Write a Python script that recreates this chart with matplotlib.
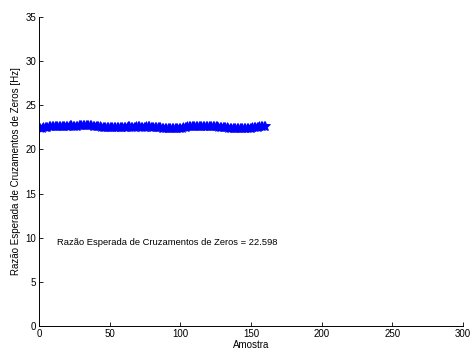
import matplotlib
matplotlib.use("Agg")
import matplotlib.pyplot as plt

plt.rcParams['font.family'] = ['Liberation Sans', 'DejaVu Sans']

zcr = [
 22.40, 22.45, 22.50, 22.52, 22.55, 22.58, 22.60, 22.62, 22.63, 22.65,
 22.66, 22.67, 22.68, 22.68, 22.69, 22.70, 22.70, 22.71, 22.70, 22.70,
 22.71, 22.72, 22.72, 22.71, 22.70, 22.70, 22.71, 22.72, 22.73, 22.73,
 22.72, 22.72, 22.73, 22.74, 22.75, 22.74, 22.72, 22.70, 22.68, 22.66,
 22.64, 22.62, 22.60, 22.58, 22.56, 22.55, 22.54, 22.53, 22.52, 22.52,
 22.53, 22.54, 22.55, 22.56, 22.57, 22.57, 22.58, 22.58, 22.57, 22.57,
 22.58, 22.59, 22.60, 22.60, 22.59, 22.58, 22.58, 22.59, 22.60, 22.60,
 22.60, 22.59, 22.58, 22.58, 22.59, 22.60, 22.60, 22.60, 22.59, 22.58,
 22.57, 22.56, 22.55, 22.54, 22.52, 22.50, 22.48, 22.46, 22.45, 22.44,
 22.42, 22.41, 22.40, 22.39, 22.38, 22.38, 22.39, 22.40, 22.42, 22.45,
 22.48, 22.52, 22.55, 22.58, 22.60, 22.61, 22.62, 22.62, 22.63, 22.63,
 22.62, 22.62, 22.63, 22.64, 22.64, 22.63, 22.62, 22.62, 22.63, 22.64,
 22.64, 22.63, 22.62, 22.61, 22.60, 22.60, 22.59, 22.58, 22.56, 22.54,
 22.52, 22.50, 22.49, 22.48, 22.47, 22.46, 22.46, 22.45, 22.45, 22.44,
 22.44, 22.45, 22.46, 22.47, 22.48, 22.47, 22.46, 22.45, 22.46, 22.48,
 22.50, 22.52, 22.55, 22.57, 22.59, 22.60, 22.61, 22.62, 22.62, 22.63,
]
x_ticks = [0, 50, 100, 150, 200, 250, 300]
y_ticks = [0, 5, 10, 15, 20, 25, 30, 35]
mean_label = "Razão Esperada de Cruzamentos de Zeros = 22.598"

fig = plt.figure(figsize=(4.72, 3.54), dpi=100)
ax = fig.add_axes([0.0826, 0.079, 0.898, 0.873])
ax.plot(range(1, len(zcr) + 1), zcr, color='blue', marker='*', linestyle='-',
        linewidth=0.8, markersize=7, markeredgewidth=0.5)
ax.set_xlim(0, 300)
ax.set_ylim(0, 35)
ax.set_xticks(x_ticks)
ax.set_yticks(y_ticks)
for s in ['top', 'right']:
    ax.spines[s].set_visible(False)
ax.tick_params(direction='in', labelsize=7, length=3, width=0.6, pad=2)
for s in ['left', 'bottom']:
    ax.spines[s].set_linewidth(0.7)
ax.set_xlabel('Amostra', fontsize=7, labelpad=1)
ax.set_ylabel('Razão Esperada de Cruzamentos de Zeros [Hz]', fontsize=7, labelpad=3)
ax.text(12.5, 9.5, mean_label, fontsize=6.75, va='center', ha='left')
fig.savefig('out.png', dpi=100)
